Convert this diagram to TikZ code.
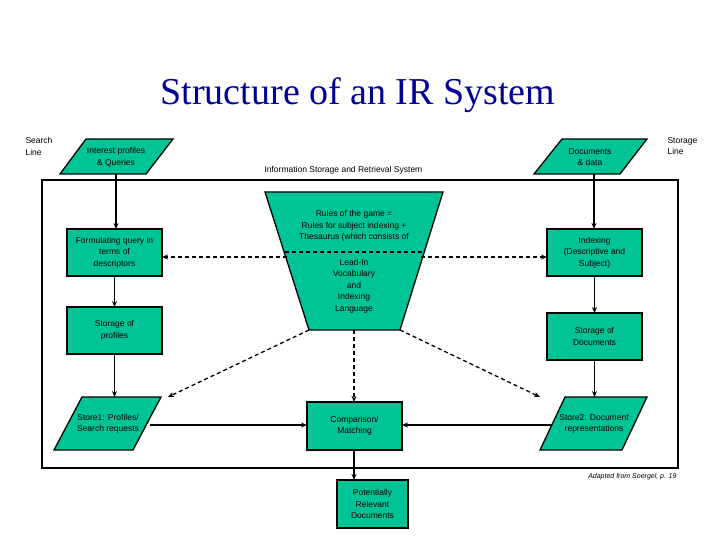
\documentclass[tikz,border=0pt]{standalone}
\usepackage{fontspec}
\setmainfont{Liberation Sans}
\newfontfamily\titlefont{Liberation Serif}
\usetikzlibrary{arrows.meta}
\definecolor{tealg}{RGB}{0,196,150}
\begin{document}
\begin{tikzpicture}[x=1pt,y=-1pt,
  box/.style={draw,line width=1.3pt,fill=tealg},
  txt/.style={font=\fontsize{8.5}{11.5}\selectfont,align=center},
  arr/.style={line width=1.3pt,-{Stealth[length=6pt,width=5pt]}},
  darr/.style={arr,dash pattern=on 4pt off 3pt}]
\useasboundingbox (0,0) rectangle (720,540);
\node[font=\titlefont\fontsize{38}{40}\selectfont,text=blue!60!black] (title) at (358,95) {Structure of an IR System};
\node[txt,align=left,anchor=north west] (sl) at (22,134) {Search\\Line};
\node[txt,align=left,anchor=north west] (stl) at (664,134) {Storage\\Line};
\draw[line width=1.3pt] (42,180) rectangle (678,468);
\node[txt,anchor=south west] (isr) at (261,178) {Information Storage and Retrieval System};
\node[font=\itshape\fontsize{7}{8}\selectfont,anchor=north east] (adp) at (680,470) {Adapted from Soergel, p. 19};
% parallelograms
\draw[box] (60,174)--(86,139)--(173,139)--(146,174)--cycle;
\node[txt] (ip) at (116,157) {Interest profiles\\\& Queries};
\draw[box] (534,174)--(562,139)--(647,139)--(620,174)--cycle;
\node[txt] (dd) at (590,157) {Documents\\\& data};
\draw[box] (54,450)--(82,397)--(161,397)--(133,450)--cycle;
\node[txt] (s1) at (108,424) {Store1: Profiles/\\Search requests};
\draw[box] (540,450)--(565,397)--(647,397)--(622,450)--cycle;
\node[txt] (s2) at (594,424) {Store2: Document\\representations};
% boxes
\draw[box] (67,229) rectangle (162,276); \node[txt] (fq) at (114.5,252.5) {Formulating query in\\terms of\\descriptors};
\draw[box] (67,307) rectangle (162,354); \node[txt] (sp) at (114.5,330.5) {Storage of\\profiles};
\draw[box] (547,229) rectangle (642,276); \node[txt] (ix) at (594.5,252.5) {Indexing\\(Descriptive and\\Subject)};
\draw[box] (547,313) rectangle (642,360); \node[txt] (sd) at (594.5,336.5) {Storage of\\Documents};
\draw[box] (307,402) rectangle (402,450); \node[txt] (cm) at (354.5,426) {Comparison/\\Matching};
\draw[box] (337,480) rectangle (408,528); \node[txt] (pr) at (372.5,504) {Potentially\\Relevant\\Documents};
% trapezoid
\draw[box] (265,192)--(443,192)--(400,330)--(309,330)--cycle;
\draw[line width=1.3pt,dash pattern=on 4pt off 3pt] (285,252)--(423,252);
\node[txt] (rg) at (354,226) {Rules of the game =\\Rules for subject indexing +\\Thesaurus (which consists of};
\node[txt] (li) at (354,286) {Lead-In\\Vocabulary\\and\\Indexing\\Language};
\coordinate (tl) at (287,257); \coordinate (tr) at (421,257);
\coordinate (bl) at (309,330); \coordinate (br) at (400,330);
\coordinate (bm) at (354,330);
\coordinate (e1) at (168,397); \coordinate (e2) at (540,397);
% arrows
\draw[arr] (116,174)--(116,229);
\draw[arr] (114.5,276)--(114.5,307);
\draw[arr] (114.5,354)--(114.5,397);
\draw[arr] (594,174)--(594,229);
\draw[arr] (594.5,276)--(594.5,313);
\draw[arr] (594.5,360)--(594.5,397);
\draw[arr] (150,425)--(307,425);
\draw[arr] (552,425)--(402,425);
\draw[arr] (354,450)--(354,480);
\draw[darr] (tl)--(162,257);
\draw[darr] (tr)--(547,257);
\draw[darr] (bl)--(e1);
\draw[darr] (br)--(e2);
\draw[darr] (bm)--(354,402);
\end{tikzpicture}
\end{document}
